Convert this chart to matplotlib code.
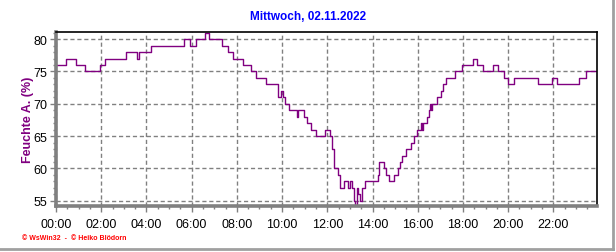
import matplotlib
matplotlib.use("Agg")
import matplotlib.pyplot as plt
from matplotlib.ticker import MultipleLocator, FixedLocator
from matplotlib.lines import Line2D

plt.rcParams['font.family'] = ['Liberation Sans', 'DejaVu Sans']

# Data: time of change (hours) and humidity value (%)
hours = [0.0, 0.45, 0.9, 1.3, 1.95, 2.15, 3.1, 3.58, 3.65, 4.2, 5.65, 5.93, 6.2,
         6.6, 6.75, 7.33, 7.62, 7.85, 8.27, 8.64, 8.86, 9.3, 9.8, 9.97, 10.05,
         10.15, 10.3, 10.65, 10.72, 10.95, 11.1, 11.3, 11.5, 11.9, 12.12, 12.2,
         12.28, 12.48, 12.55, 12.75, 12.92, 13.0, 13.1, 13.18, 13.23, 13.3, 13.38,
         13.45, 13.55, 13.65, 14.25, 14.3, 14.5, 14.6, 14.72, 14.95, 15.12, 15.2,
         15.3, 15.5, 15.7, 15.85, 15.95, 16.15, 16.2, 16.25, 16.42, 16.5, 16.55,
         16.6, 16.65, 16.85, 17.05, 17.12, 17.25, 17.65, 17.97, 18.43, 18.62,
         18.88, 19.35, 19.55, 19.8, 19.98, 20.28, 21.3, 21.92, 22.15, 23.12,
         23.45, 23.92]
humidity = [76, 77, 76, 75, 76, 77, 78, 77, 78, 79, 80, 79, 80,
            81, 80, 79, 78, 77, 76, 75, 74, 73, 71, 72, 71,
            70, 69, 68, 69, 68, 67, 66, 65, 66, 65, 63,
            60, 59, 57, 58, 57, 58, 57, 55, 54, 57, 56,
            55, 57, 58, 59, 61, 60, 59, 58, 59, 60, 61,
            62, 63, 64, 65, 66, 67, 66, 67, 68, 69, 70,
            69, 70, 71, 72, 73, 74, 75, 76, 77, 76,
            75, 76, 75, 74, 73, 74, 73, 74, 73, 74,
            75, 75]

x_ticks = [0, 2, 4, 6, 8, 10, 12, 14, 16, 18, 20, 22]
x_labels = ["00:00", "02:00", "04:00", "06:00", "08:00", "10:00", "12:00",
            "14:00", "16:00", "18:00", "20:00", "22:00"]
y_ticks = [55, 60, 65, 70, 75, 80]

title = "Mittwoch, 02.11.2022"
ylabel = "Feuchte A. (%)"
footer = "© WsWin32  -  © Heiko Blödorn"

W, H = 616, 253
fig = plt.figure(figsize=(W / 100, H / 100), dpi=100)
fig.patch.set_facecolor("white")

left, right, top, bottom = 56, 597, 33, 207
ax = fig.add_axes([left / W, 1 - bottom / H, (right - left) / W, (bottom - top) / H])

ax.plot(hours, humidity, drawstyle="steps-post", color="#800080", lw=1.0)

ax.set_xlim(0, 23.93)
ax.set_ylim(54.2, 81.1)

ax.xaxis.set_major_locator(FixedLocator(x_ticks))
ax.set_xticklabels(x_labels)
ax.xaxis.set_minor_locator(MultipleLocator(0.5))
ax.yaxis.set_major_locator(FixedLocator(y_ticks))
ax.yaxis.set_minor_locator(MultipleLocator(1))

ax.grid(True, which="major", color="#808080", linestyle=(0, (3, 2)), lw=1.0)

for s in ["top", "right"]:
    ax.spines[s].set_color("black")
    ax.spines[s].set_linewidth(1.2)
for s in ["left", "bottom"]:
    ax.spines[s].set_color("#808080")
    ax.spines[s].set_linewidth(2.6)

ax.tick_params(axis="both", which="major", length=4, width=1, color="#808080",
               labelsize=9, labelcolor="black", pad=2)
ax.tick_params(axis="both", which="minor", length=2, width=1, color="#808080")
ax.tick_params(axis="x", which="major", pad=5)

ax.set_ylabel(ylabel, color="#800080", fontsize=9, fontweight="bold")
ax.yaxis.set_label_coords((34 - left) / (right - left), 0.5)

fig.text(308 / W, 1 - 17 / H, title, color="#0000ff", fontsize=8.5,
         fontweight="bold", ha="center", va="center")
fig.text(22 / W, 1 - 239 / H, footer, color="#ff0000", fontsize=5,
         fontweight="bold", ha="left", va="center")

# figure border on right and bottom
fig.add_artist(Line2D([613 / W, 613 / W], [1 - 250 / H, 1], transform=fig.transFigure,
                      color="#a0a0a0", lw=2))
fig.add_artist(Line2D([0, 613 / W], [1 - 250 / H, 1 - 250 / H], transform=fig.transFigure,
                      color="#a0a0a0", lw=2))

fig.savefig("out.png", dpi=100, facecolor="white")
